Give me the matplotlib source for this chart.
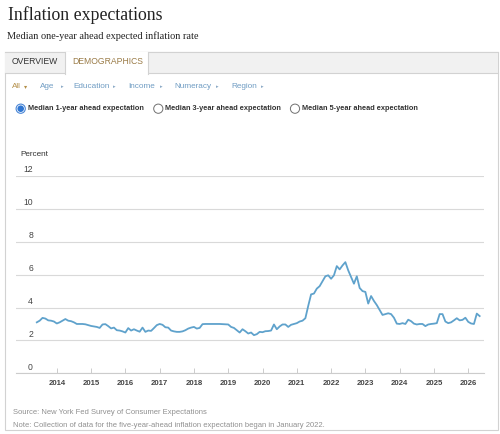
import matplotlib
matplotlib.use('Agg')
import matplotlib.pyplot as plt
import matplotlib.transforms as mtrans
from matplotlib.patches import Rectangle, Circle
from matplotlib.lines import Line2D
import numpy as np
import pandas as pd

# ---------------- data ----------------
start_month = '2013-06-01'
values_2013 = [3.10, 3.20, 3.37, 3.33, 3.22, 3.20, 3.15]
values_2014 = [3.03, 3.10, 3.20, 3.30, 3.20, 3.17, 3.10, 3.00, 3.00, 3.00, 2.98, 2.93]
values_2015 = [2.88, 2.85, 2.82, 2.76, 2.97, 2.99, 2.87, 2.73, 2.78, 2.62, 2.60, 2.55]
values_2016 = [2.48, 2.75, 2.60, 2.68, 2.60, 2.53, 2.78, 2.52, 2.60, 2.58, 2.75, 2.93]
values_2017 = [3.00, 2.95, 2.80, 2.78, 2.60, 2.55, 2.52, 2.52, 2.55, 2.62, 2.72, 2.78]
values_2018 = [2.82, 2.72, 2.76, 2.99, 3.00, 3.00, 3.00, 3.00, 3.00, 3.00, 2.99, 2.98]
values_2019 = [2.97, 2.82, 2.76, 2.62, 2.48, 2.68, 2.56, 2.42, 2.48, 2.32, 2.38, 2.52]
values_2020 = [2.50, 2.56, 2.57, 2.60, 2.97, 2.68, 2.85, 2.97, 2.97, 2.82, 2.95, 3.00]
values_2021 = [3.05, 3.15, 3.20, 3.35, 4.10, 4.80, 4.85, 5.15, 5.30, 5.60, 5.90, 5.96]
values_2022 = [5.75, 5.96, 6.52, 6.32, 6.56, 6.76, 6.26, 5.86, 5.45, 5.90, 5.19, 5.00]
values_2023 = [4.95, 4.24, 4.70, 4.40, 4.15, 3.85, 3.55, 3.60, 3.65, 3.60, 3.38, 3.02]
values_2024 = [3.00, 3.05, 3.00, 3.26, 3.17, 3.02, 2.97, 3.00, 3.00, 2.87, 2.97, 3.00]
values_2025 = [3.02, 3.05, 3.60, 3.60, 3.15, 3.05, 3.10, 3.22, 3.35, 3.22, 3.25, 3.38]
values_2026 = [3.13, 3.03, 3.00, 3.63, 3.48]

values = (values_2013 + values_2014 + values_2015 + values_2016 + values_2017 +
          values_2018 + values_2019 + values_2020 + values_2021 + values_2022 +
          values_2023 + values_2024 + values_2025 + values_2026)
dates = pd.date_range(start_month, periods=len(values), freq='MS')
x_years = dates.year + (dates.month - 1) / 12.0

year_ticks = list(range(2014, 2027))
y_ticks = [0, 2, 4, 6, 8, 10, 12]
y_tick_labels = ['0', '2', '4', '6', '8', '10', '12']

title = 'Inflation expectations'
subtitle = 'Median one-year ahead expected inflation rate'
tabs = ['OVERVIEW', 'DEMOGRAPHICS']
filters = ['Age', 'Education', 'Income', 'Numeracy', 'Region']
radio_labels = ['Median 1-year ahead expectation',
                'Median 3-year ahead expectation',
                'Median 5-year ahead expectation']
source_text = 'Source: New York Fed Survey of Consumer Expectations'
note_text = 'Note: Collection of data for the five-year-ahead inflation expectation began in January 2022.'

# ---------------- layout helpers ----------------
W, H = 500, 434
fig = plt.figure(figsize=(W / 100, H / 100), dpi=100)
fig.patch.set_facecolor('white')
SANS = ['Liberation Sans', 'DejaVu Sans']
SERIF = ['Liberation Serif', 'DejaVu Serif']


def fx(x):
    return x / W


def fy(y):
    return 1 - y / H


def rect(x0, y0, x1, y1, **kw):
    r = Rectangle((fx(x0), fy(y1)), fx(x1) - fx(x0), fy(y0) - fy(y1),
                  transform=fig.transFigure, **kw)
    fig.add_artist(r)
    return r


def hline(x0, x1, y, **kw):
    fig.add_artist(Line2D([fx(x0), fx(x1)], [fy(y), fy(y)], transform=fig.transFigure, **kw))


def vline(x, y0, y1, **kw):
    fig.add_artist(Line2D([fx(x), fx(x)], [fy(y0), fy(y1)], transform=fig.transFigure, **kw))


border = '#d2d2d2'
# title & subtitle
fig.text(fx(8), fy(20), title, family=SERIF, fontsize=12.8, color='#222222', va='baseline')
fig.text(fx(7), fy(39), subtitle, family=SERIF, fontsize=7.4, color='#222222', va='baseline')

# panel
rect(5, 52, 498, 430, facecolor='white', edgecolor=border, lw=0.8, zorder=-5)
rect(5, 52, 498, 73, facecolor='#f1f1f1', edgecolor='none', zorder=-4)
hline(5, 498, 52, color=border, lw=0.8, zorder=-3)
hline(5, 65, 73, color=border, lw=0.8, zorder=-3)
hline(148, 498, 73, color=border, lw=0.8, zorder=-3)
rect(65, 52, 148, 73.5, facecolor='white', edgecolor='none', zorder=-3)
vline(65, 52, 73.5, color=border, lw=0.8, zorder=-2)
vline(148, 52, 73.5, color=border, lw=0.8, zorder=-2)

fig.text(fx(12), fy(62), tabs[0], family=SANS, fontsize=6.2, color='#333333', va='center')
fig.text(fx(72), fy(62), tabs[1], family=SANS, fontsize=6.2, color='#9a7b47', va='center')

# filter row
gold = '#b38f48'
blue = '#6f9cc3'
fig.text(fx(12), fy(87), 'All', family=SANS, fontsize=5.9, color=gold, va='center')
fig.text(fx(24), fy(87), '\u25be', family=SANS, fontsize=4.5, color=gold, va='center')
filter_x = [40, 73, 128, 174, 231]
for name, xx in zip(filters, filter_x):
    t = fig.text(fx(xx), fy(87), name, family=SANS, fontsize=5.9, color=blue, va='center')
arrow_x = [61, 113, 160, 216, 261]
for xx in arrow_x:
    fig.text(fx(xx), fy(87), '\u25b8', family=SANS, fontsize=3.8, color='#8aa9c6', va='center')

# radio buttons
radio_cx = [20.7, 158.3, 295]
for i, (cx, lab) in enumerate(zip(radio_cx, radio_labels)):
    ctr = (cx / 100, (H - 108.7) / 100)
    if i == 0:
        fig.add_artist(Circle(ctr, 4.6 / 100, transform=fig.dpi_scale_trans,
                              facecolor='white', edgecolor='#4a86d6', lw=0.8))
        fig.add_artist(Circle(ctr, 3.3 / 100, transform=fig.dpi_scale_trans,
                              facecolor='#2f76d2', edgecolor='none'))
    else:
        fig.add_artist(Circle(ctr, 4.6 / 100, transform=fig.dpi_scale_trans,
                              facecolor='white', edgecolor='#707070', lw=0.7))
    fig.text(fx(cx + 7), fy(108.7), lab, family=SANS, fontsize=5.3, fontweight='bold',
             color='#333333', va='center')

# ---------------- chart ----------------
ax_left, ax_right, ax_top, ax_bottom = 16, 484, 176, 373.3
ax = fig.add_axes([fx(ax_left), fy(ax_bottom), fx(ax_right) - fx(ax_left),
                   (ax_bottom - ax_top) / H])
ax.patch.set_visible(False)
ax.plot(x_years, values, color='#5fa2cc', lw=1.3, solid_joinstyle='round', zorder=3)
ax.set_xlim(2012.81, 2026.46)
ax.set_ylim(0, 12)
ax.set_yticks(y_ticks)
ax.set_yticklabels([])
ax.tick_params(axis='y', length=0)
ax.grid(axis='y', color='#d9d9d9', lw=0.8)
ax.set_axisbelow(True)
for s in ['top', 'right', 'left']:
    ax.spines[s].set_visible(False)
ax.spines['bottom'].set_color('#cccccc')
ax.spines['bottom'].set_linewidth(0.8)
ax.set_xticks(year_ticks)
ax.set_xticklabels([str(y) for y in year_ticks], fontfamily=SANS, fontsize=5.6,
                   fontweight='bold', color='#444444')
ax.tick_params(axis='x', direction='in', length=3.6, width=0.7, color='#cccccc', pad=4.8)

lab_tr = mtrans.blended_transform_factory(ax.transAxes, ax.transData) + \
    mtrans.ScaledTranslation(17 / 100, 6 / 100, fig.dpi_scale_trans)
for v, lab in zip(y_ticks, y_tick_labels):
    ax.text(0, v, lab, transform=lab_tr, ha='right', va='center', family=SANS,
            fontsize=6.2, color='#444444')

fig.text(fx(20), fy(155), 'Percent', family=SANS, fontsize=5.9, color='#333333', va='center')

# footer
fig.text(fx(13), fy(412.3), source_text, family=SANS, fontsize=5.5, color='#909090', va='center')
fig.text(fx(13), fy(425.5), note_text, family=SANS, fontsize=5.5, color='#909090', va='center')

fig.savefig('out.png', dpi=100)
